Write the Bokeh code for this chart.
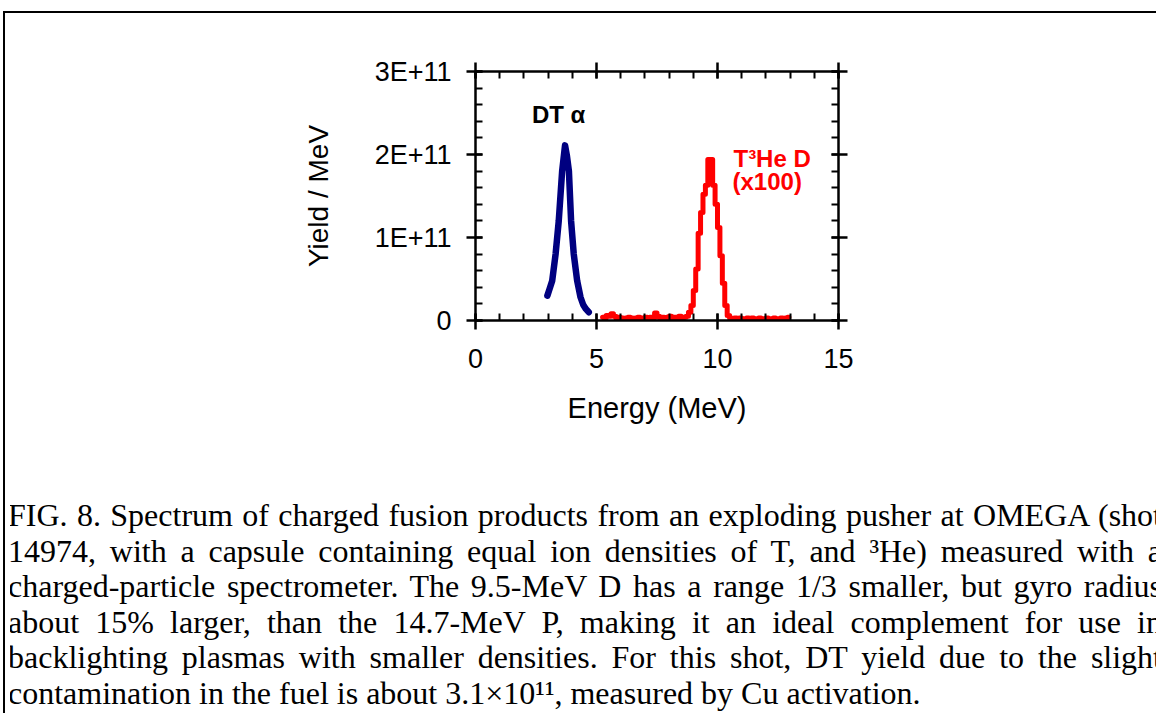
from bokeh.plotting import figure
from bokeh.models import (Range1d, LinearAxis, SingleIntervalTicker,
                          CustomJSTickFormatter, Div, Column)
from bokeh.core.properties import value
from bokeh.embed import file_html
from bokeh.resources import INLINE

# ---------------- data ----------------
dt_alpha_energy = [2.97, 3.05, 3.17, 3.31, 3.44, 3.58, 3.70, 3.78, 3.86,
                   3.95, 4.06, 4.20, 4.34, 4.45, 4.56, 4.68]
dt_alpha_yield_e11 = [0.30, 0.37, 0.48, 0.80, 1.20, 1.80, 2.11, 1.98, 1.80,
                      1.20, 0.80, 0.48, 0.28, 0.19, 0.14, 0.10]

t3he_d_energy = [5.25, 5.35, 5.45, 5.55, 5.65, 5.75, 5.85, 5.95,
                 6.05, 6.15, 6.25, 6.35, 6.45, 6.55, 6.65, 6.75, 6.85, 6.95,
                 7.05, 7.15, 7.25, 7.35, 7.45, 7.55, 7.65, 7.75, 7.85, 7.95,
                 8.05, 8.15, 8.25, 8.35, 8.45, 8.55, 8.65, 8.75, 8.85, 8.95,
                 9.05, 9.15, 9.25, 9.35, 9.45, 9.55, 9.65, 9.75, 9.85, 9.95,
                 10.05, 10.15, 10.25, 10.35, 10.45, 10.55, 10.65, 10.75, 10.85, 10.95,
                 11.05, 11.15, 11.25, 11.35, 11.45, 11.55, 11.65, 11.75, 11.85, 11.95,
                 12.05, 12.15, 12.25, 12.35, 12.45, 12.55, 12.65, 12.75, 12.85, 12.95]
t3he_d_yield_x100_e11 = [0.04, 0.03, 0.06, 0.05, 0.08, 0.05, 0.03, 0.04,
                         0.03, 0.02, 0.03, 0.04, 0.03, 0.02, 0.03, 0.04, 0.03, 0.02,
                         0.04, 0.03, 0.04, 0.03, 0.09, 0.05, 0.03, 0.04, 0.03, 0.04,
                         0.05, 0.03, 0.04, 0.03, 0.05, 0.03, 0.04, 0.05, 0.10, 0.18,
                         0.36, 0.62, 1.05, 1.30, 1.52, 1.63, 1.94, 1.94, 1.63, 1.40,
                         1.12, 0.78, 0.45, 0.18, 0.06, 0.03, 0.02, 0.03, 0.02, 0.03,
                         0.02, 0.02, 0.03, 0.02, 0.03, 0.02, 0.02, 0.03, 0.02, 0.02,
                         0.03, 0.02, 0.02, 0.03, 0.02, 0.02, 0.03, 0.02, 0.03, 0.04]

label_texts = ["DT α", "T³He D", "(x100)"]
label_energy = [2.33, 10.66, 10.62]
label_yield_e11 = [2.48, 1.95, 1.67]
label_colors = ["black", "red", "red"]

caption_lines = [
    "FIG. 8. Spectrum of charged fusion products from an exploding pusher at OMEGA (shot",
    "14974, with a capsule containing equal ion densities of T, and ³He) measured with a",
    "charged-particle spectrometer. The 9.5-MeV D has a range 1/3 smaller, but gyro radius",
    "about 15% larger, than the 14.7-MeV P, making it an ideal complement for use in",
    "backlighting plasmas with smaller densities. For this shot, DT yield due to the slight",
    "contamination in the fuel is about 3.1×10¹¹, measured by Cu activation.",
]

E11 = 1e11
dt_y = [v * E11 for v in dt_alpha_yield_e11]
d_y = [v * E11 for v in t3he_d_yield_x100_e11]

# ---------------- figure ----------------
FONT = "Liberation Sans"
W = 1151
p = figure(width=W, height=450, output_backend="svg", toolbar_location=None,
           x_range=Range1d(0, 15), y_range=Range1d(0, 3e11),
           x_axis_location=None, y_axis_location=None,
           min_border_left=470, min_border_right=318,
           min_border_top=58, min_border_bottom=143)
p.background_fill_color = "white"
p.border_fill_color = "white"
p.outline_line_color = None
p.grid.visible = False

xt = SingleIntervalTicker(interval=5, num_minor_ticks=5)
yt = SingleIntervalTicker(interval=1e11, num_minor_ticks=5)
yfmt = CustomJSTickFormatter(
    code="return tick == 0 ? '0' : Math.round(tick/1e11) + 'E+11';")

x_bottom = LinearAxis(ticker=xt, axis_label="Energy (MeV)")
y_left = LinearAxis(ticker=yt, formatter=yfmt, axis_label="Yield / MeV")
x_top = LinearAxis(ticker=xt)
y_right = LinearAxis(ticker=yt, formatter=yfmt)
p.add_layout(x_bottom, "below")
p.add_layout(y_left, "left")
p.add_layout(x_top, "above")
p.add_layout(y_right, "right")

for ax in (x_bottom, y_left, x_top, y_right):
    ax.axis_line_width = 2.5
    ax.axis_line_color = "black"
    ax.major_tick_line_width = 2.5
    ax.minor_tick_line_width = 2
    ax.major_tick_in = 7
    ax.major_tick_out = 9
    ax.minor_tick_in = 7
    ax.minor_tick_out = 0
    ax.major_label_text_font = FONT
    ax.major_label_text_color = "black"
    ax.major_label_text_font_size = "27px"
    ax.axis_label_text_font = FONT
    ax.axis_label_text_font_style = "normal"
    ax.axis_label_text_color = "black"
    ax.axis_label_text_font_size = "28px"

for ax in (x_top, y_right):
    ax.major_label_text_color = None

x_bottom.axis_label_text_font_size = "29px"
x_bottom.major_label_standoff = 19
x_bottom.axis_label_standoff = 21
y_left.major_label_standoff = 15
y_left.axis_label_standoff = 38

p.line(dt_alpha_energy, dt_y, line_color="#000080", line_width=6.5,
       line_cap="round", line_join="round")
p.step(t3he_d_energy, d_y, mode="center", line_color="#FF0000", line_width=5,
       line_join="round", line_cap="round")

p.text(x=label_energy, y=[v * E11 for v in label_yield_e11], text=label_texts,
       text_color=label_colors, text_font=value(FONT), text_font_style="bold",
       text_font_size="24px", text_baseline="alphabetic", text_align="left")

# ---------------- caption ----------------
line_style = ("width:1154px;text-align:justify;text-align-last:justify;"
              "font-family:'Liberation Serif';font-size:32px;line-height:35.5px;"
              "color:#000;margin:0 0 0 -2px;padding:0;")
last_style = line_style.replace("text-align-last:justify", "text-align-last:left")
html = (f"<div style=\"width:{W}px;height:250px;overflow:hidden;padding-top:30px;"
        "box-sizing:border-box;margin:0;\">")
for ln in caption_lines[:-1]:
    html += f"<div style=\"{line_style}\">{ln}</div>"
html += f"<div style=\"{last_style}\">{caption_lines[-1]}</div></div>"
caption = Div(text=html, width=W, height=250)

layout = Column(children=[p, caption],
                styles={"border-top": "2px solid black",
                        "border-left": "2px solid black",
                        "margin-top": "11px",
                        "margin-left": "3px"})

open("out.html", "w").write(file_html(layout, INLINE))
